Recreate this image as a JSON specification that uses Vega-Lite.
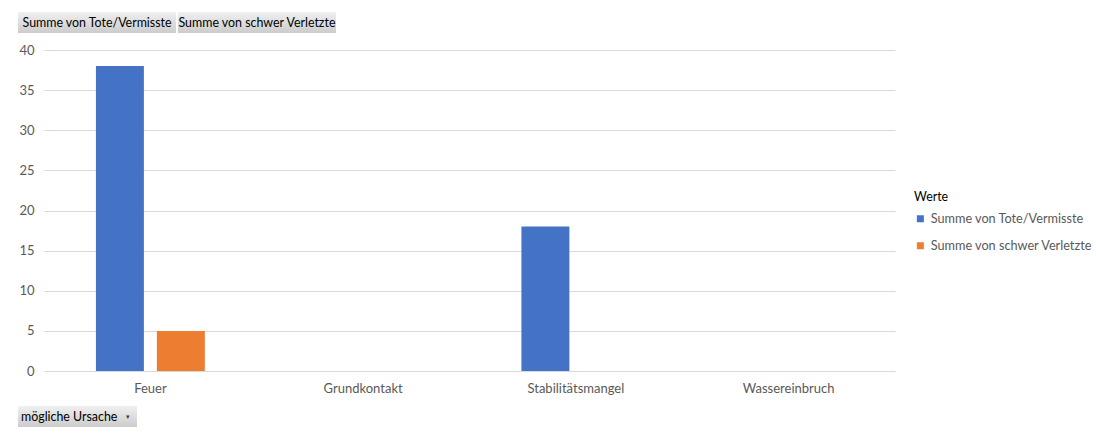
{
  "$schema": "https://vega.github.io/schema/vega-lite/v6.json",
  "padding": {"left": 18, "top": 12, "right": 0, "bottom": 0},
  "background": "#ffffff",
  "spacing": 11,
  "config": {"font": "Lato", "view": {"stroke": null}},
  "datasets": {
    "main": [
      {"Ursache": "Feuer", "Serie": "Summe von Tote/Vermisste", "Wert": 38},
      {"Ursache": "Feuer", "Serie": "Summe von schwer Verletzte", "Wert": 5},
      {"Ursache": "Grundkontakt", "Serie": "Summe von Tote/Vermisste", "Wert": null},
      {"Ursache": "Grundkontakt", "Serie": "Summe von schwer Verletzte", "Wert": null},
      {"Ursache": "Stabilitätsmangel", "Serie": "Summe von Tote/Vermisste", "Wert": 18},
      {"Ursache": "Stabilitätsmangel", "Serie": "Summe von schwer Verletzte", "Wert": null},
      {"Ursache": "Wassereinbruch", "Serie": "Summe von Tote/Vermisste", "Wert": null},
      {"Ursache": "Wassereinbruch", "Serie": "Summe von schwer Verletzte", "Wert": null}
    ],
    "buttons": [
      {"label": "Summe von Tote/Vermisste"},
      {"label": "Summe von schwer Verletzte"}
    ],
    "field": [
      {"label": "mögliche Ursache"}
    ]
  },
  "vconcat": [
    {
      "width": 318,
      "height": 21,
      "data": {"name": "buttons"},
      "encoding": {
        "x": {"field": "label", "type": "nominal", "sort": null, "scale": {"paddingInner": 0.012, "paddingOuter": 0}, "axis": null}
      },
      "layer": [
        {"mark": {"type": "rect", "xOffset": -26, "color": {"gradient": "linear", "x1": 0, "y1": 0, "x2": 0, "y2": 1, "stops": [{"offset": 0, "color": "#f0f0f0"}, {"offset": 1, "color": "#cccccc"}]}}},
        {"mark": {"type": "text", "xOffset": -26, "fontSize": 12.4, "color": "#000000", "baseline": "middle"}, "encoding": {"text": {"field": "label"}}}
      ]
    },
    {
      "width": 851,
      "height": 321,
      "data": {"name": "main"},
      "mark": {"type": "bar"},
      "encoding": {
        "x": {
          "field": "Ursache", "type": "nominal", "sort": null,
          "scale": {"domain": ["Feuer", "Grundkontakt", "Stabilitätsmangel", "Wassereinbruch"], "paddingInner": 0, "paddingOuter": 0},
          "axis": {"title": null, "labelAngle": 0, "ticks": false, "domain": false, "labelPadding": 11, "labelColor": "#595959", "labelFontSize": 13}
        },
        "xOffset": {
          "field": "Serie", "type": "nominal", "sort": null,
          "scale": {"domain": ["Summe von Tote/Vermisste", "Summe von schwer Verletzte"], "paddingInner": 0.213, "paddingOuter": 0.852}
        },
        "y": {
          "field": "Wert", "type": "quantitative",
          "scale": {"domain": [0, 40], "nice": false},
          "axis": {"title": null, "values": [0, 5, 10, 15, 20, 25, 30, 35, 40], "grid": true, "gridColor": "#d9d9d9", "domain": false, "ticks": false, "labelPadding": 10, "labelColor": "#595959", "labelFontSize": 13}
        },
        "color": {
          "field": "Serie", "type": "nominal", "sort": null,
          "scale": {"domain": ["Summe von Tote/Vermisste", "Summe von schwer Verletzte"], "range": ["#4472C4", "#ED7D31"]},
          "legend": {"title": "Werte", "orient": "none", "legendX": 870, "legendY": 179, "symbolType": "square", "symbolSize": 49, "symbolStrokeWidth": 0, "labelFontSize": 12.7, "labelLimit": 250, "labelColor": "#595959", "labelOffset": 4, "titleFontSize": 12.4, "titleFontWeight": "normal", "titleColor": "#000000", "rowPadding": 13, "titlePadding": 9}
        }
      }
    },
    {
      "width": 119,
      "height": 21,
      "data": {"name": "field"},
      "encoding": {
        "x": {"field": "label", "type": "nominal", "scale": {"paddingInner": 0, "paddingOuter": 0}, "axis": null}
      },
      "layer": [
        {"mark": {"type": "rect", "xOffset": -26, "color": {"gradient": "linear", "x1": 0, "y1": 0, "x2": 0, "y2": 1, "stops": [{"offset": 0, "color": "#f0f0f0"}, {"offset": 1, "color": "#cccccc"}]}}},
        {"mark": {"type": "text", "xOffset": -26, "fontSize": 12.4, "color": "#000000", "baseline": "middle", "align": "left", "dx": -56.5}, "encoding": {"text": {"field": "label"}}},
        {"mark": {"type": "text", "xOffset": -26, "fontSize": 7, "color": "#404040", "baseline": "middle", "align": "center", "dx": 50.5, "text": "▾"}}
      ]
    }
  ]
}
